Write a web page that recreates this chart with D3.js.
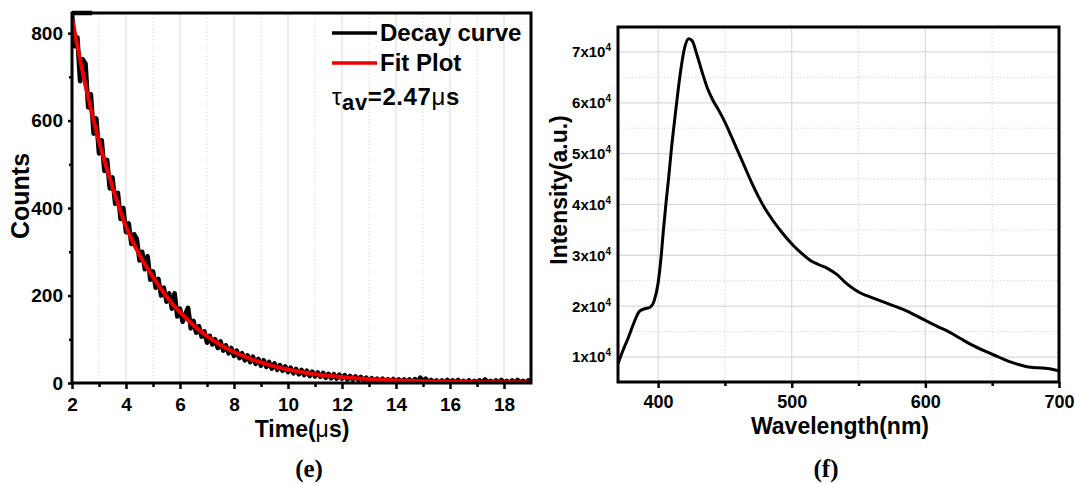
<!DOCTYPE html>
<html><head><meta charset="utf-8">
<script src="https://cdn.jsdelivr.net/npm/d3@7"></script>
<style>
body{margin:0;background:#fff}
svg{display:block}
text{font-family:"Liberation Sans",Arial,Helvetica,sans-serif;font-weight:bold;fill:#000}
</style>
</head><body>
<svg id="c" width="1075" height="484"></svg>
<script>
// ---------- Panel (e): decay curve ----------
const decayStart = 2, decayStep = 0.1;
const decayCounts = [
 845,770,790,690,740,730,630,660,570,605,
 525,555,485,510,445,470,410,435,375,400,
 345,365,318,340,330,280,300,260,290,236,
 255,218,238,200,218,186,205,170,205,152,
 170,140,158,172,125,142,115,130,106,118,
 92,108,88,100,80,95,74,86,68,80,
 62,74,57,68,52,63,48,60,44,55,
 40,52,37,48,33,45,30,41,28,38,
 25,35,22,32,20,30,18,28,16,26,
 15,24,14,23,12,21,11,20,10,19,
 10,18,8,16,8,15,7,14,6,12,
 5,11,4,10,4,10,3,9,3,9,
 2,8,2,8,2,8,1,9,3,12,
 4,10,2,7,1,6,0,6,0,7,
 1,6,0,7,0,5,0,6,0,5,
 1,6,0,8,1,5,0,6,0,7,
 1,5,0,6,0,7,1,5,0,6,
 2
];
const fitStart = 2, fitStep = 0.5;
const fitCounts = [834,680,552,448,358,293,242,198,162,132,107,87,71,58,47,38,31,25,20,16.5,13.5,11,9,7.5,6,5,4,3.5,3,2.5,2,2,1.5,1.5,1];
const timeTicks = [2,4,6,8,10,12,14,16,18];
const timeMinor = [3,5,7,9,11,13,15,17];
const countTicks = [0,200,400,600,800];
const countMinor = [100,300,500,700];

// ---------- Panel (f): PL spectrum ----------
const plWavelength = [370,374,378,382,386,390,394,397,400,402,404,406,408,410,413,415,417,420,423,425.5,429,433,437,441,445,450,455,460,465,470,475,480,485,493,501,507,514,520,527,534,540,547,553,560,572,585,600,610,618,626,634,646,655,662,669,675,681,687,694,700];
const plIntensity = [8700,11500,14000,16800,19000,19500,19800,21000,24500,29000,35000,40500,45500,51000,58000,62500,66500,71000,72600,72200,69500,66000,62800,60500,58700,56200,53300,50300,47300,44300,41600,39200,37200,34400,32000,30500,29000,28200,27400,26200,24700,23300,22400,21700,20500,19200,17200,15900,14900,13700,12500,11000,10000,9200,8600,8150,7950,7850,7650,7300];
const wlTicks = [400,500,600,700];
const wlMinor = [450,550,650];
const intTicks = [10000,20000,30000,40000,50000,60000,70000];
const intMinor = [15000,25000,35000,45000,55000,65000];

const svg = d3.select("#c");
const GRID = "#d9d9d9";

// ===== Panel e =====
const xE = d3.scaleLinear().domain([2,19]).range([72,531]);
const yE = d3.scaleLinear().domain([0,846]).range([383,13]);
const gE = svg.append("g");

gE.append("clipPath").attr("id","clipE").append("rect")
  .attr("x",xE(2)).attr("y",yE(846)).attr("width",xE(19)-xE(2)).attr("height",yE(0)-yE(846));

gE.append("g").selectAll("line").data(timeTicks.filter(d=>d>2)).join("line")
  .attr("x1",d=>xE(d)).attr("x2",d=>xE(d)).attr("y1",yE(0)).attr("y2",yE(846))
  .attr("stroke",GRID).attr("stroke-width",1);
gE.append("g").selectAll("line").data(timeMinor).join("line")
  .attr("x1",d=>xE(d)).attr("x2",d=>xE(d)).attr("y1",yE(0)).attr("y2",yE(846))
  .attr("stroke",GRID).attr("stroke-width",1).attr("stroke-dasharray","1.5,2");

const decayData = decayCounts.map((v,i)=>[decayStart+i*decayStep, v]);
const fitData = fitCounts.map((v,i)=>[fitStart+i*fitStep, v]);

gE.append("path").datum(decayData)
  .attr("clip-path","url(#clipE)")
  .attr("fill","none").attr("stroke","#000").attr("stroke-width",4.6).attr("stroke-linejoin","round")
  .attr("d", d3.line().x(d=>xE(d[0])).y(d=>yE(d[1])));
gE.append("path").datum(fitData)
  .attr("clip-path","url(#clipE)")
  .attr("fill","none").attr("stroke","#ee0000").attr("stroke-width",4)
  .attr("d", d3.line().curve(d3.curveMonotoneX).x(d=>xE(d[0])).y(d=>yE(d[1])));

gE.append("g").attr("transform",`translate(0,${yE(0)})`)
  .call(d3.axisBottom(xE).tickValues(timeTicks).tickSize(6).tickPadding(9).tickFormat(d3.format("d")));
gE.append("g").attr("transform",`translate(0,${yE(0)})`)
  .call(d3.axisBottom(xE).tickValues(timeMinor).tickSize(4).tickFormat(""));
gE.append("g").attr("transform",`translate(${xE(2)},0)`)
  .call(d3.axisLeft(yE).tickValues(countTicks).tickSize(4).tickPadding(5));
gE.append("g").attr("transform",`translate(${xE(2)},0)`)
  .call(d3.axisLeft(yE).tickValues(countMinor).tickSize(3).tickFormat(""));
gE.selectAll(".domain").remove();
gE.selectAll(".tick line").attr("stroke","#000").attr("stroke-width",2.5);
gE.selectAll(".tick text").style("font-size","19px").style("font-family",null);

gE.append("rect").attr("x",xE(2)).attr("y",yE(846)).attr("width",xE(19)-xE(2)).attr("height",yE(0)-yE(846))
  .attr("fill","none").attr("stroke","#000").attr("stroke-width",3);
gE.append("line").attr("x1",xE(2)).attr("x2",xE(2.75)).attr("y1",yE(846)).attr("y2",yE(846))
  .attr("stroke","#000").attr("stroke-width",4.5);

// legend
const legend = [{label:"Decay curve", color:"#000"},{label:"Fit Plot", color:"#ee0000"}];
legend.forEach((l,i)=>{
  const yy = 33 + i*30;
  gE.append("line").attr("x1",332).attr("x2",377).attr("y1",yy).attr("y2",yy)
    .attr("stroke",l.color).attr("stroke-width",3.5);
  gE.append("text").attr("x",380).attr("y",yy+8).style("font-size","24px").text(l.label);
});
const tau = gE.append("text").attr("x",332).attr("y",105).style("font-size","24px").style("letter-spacing","0.6px");
tau.append("tspan").style("font-weight","normal").text("τ");
tau.append("tspan").attr("dy",5).style("font-size","22px").text("av");
tau.append("tspan").attr("dy",-5).text("=2.47");
tau.append("tspan").style("font-weight","normal").text("μ");
tau.append("tspan").text("s");

gE.append("text").attr("transform","translate(29,196) rotate(-90)").attr("text-anchor","middle")
  .style("font-size","25px").text("Counts");
const tT = gE.append("text").attr("x",302).attr("y",437).attr("text-anchor","middle").style("font-size","23px");
tT.append("tspan").text("Time(");
tT.append("tspan").style("font-weight","normal").text("μ");
tT.append("tspan").text("s)");

// ===== Panel f =====
const xF = d3.scaleLinear().domain([370,700]).range([618,1059]);
const yF = d3.scaleLinear().domain([5100,74900]).range([382,27]);
const gF = svg.append("g");

gF.append("clipPath").attr("id","clipF").append("rect")
  .attr("x",xF(370)).attr("y",yF(74900)).attr("width",xF(700)-xF(370)).attr("height",yF(5100)-yF(74900));

gF.append("g").selectAll("line").data(intTicks).join("line")
  .attr("x1",xF(370)).attr("x2",xF(700)).attr("y1",d=>yF(d)).attr("y2",d=>yF(d))
  .attr("stroke",GRID).attr("stroke-width",1.2);
gF.append("g").selectAll("line").data(intMinor).join("line")
  .attr("x1",xF(370)).attr("x2",xF(700)).attr("y1",d=>yF(d)).attr("y2",d=>yF(d))
  .attr("stroke",GRID).attr("stroke-width",1).attr("stroke-dasharray","1.5,2");
gF.append("g").selectAll("line").data(wlTicks.filter(d=>d<700)).join("line")
  .attr("x1",d=>xF(d)).attr("x2",d=>xF(d)).attr("y1",yF(5100)).attr("y2",yF(74900))
  .attr("stroke",GRID).attr("stroke-width",1.2);
gF.append("g").selectAll("line").data(wlMinor).join("line")
  .attr("x1",d=>xF(d)).attr("x2",d=>xF(d)).attr("y1",yF(5100)).attr("y2",yF(74900))
  .attr("stroke",GRID).attr("stroke-width",1).attr("stroke-dasharray","1.5,2");

const plData = plWavelength.map((w,i)=>[w, plIntensity[i]]);
gF.append("path").datum(plData)
  .attr("clip-path","url(#clipF)")
  .attr("fill","none").attr("stroke","#000").attr("stroke-width",3).attr("stroke-linejoin","round")
  .attr("d", d3.line().curve(d3.curveMonotoneX).x(d=>xF(d[0])).y(d=>yF(d[1])));

gF.append("g").attr("transform",`translate(0,${yF(5100)})`)
  .call(d3.axisBottom(xF).tickValues(wlTicks).tickSize(6).tickPadding(7).tickFormat(d3.format("d")));
gF.append("g").attr("transform",`translate(0,${yF(5100)})`)
  .call(d3.axisBottom(xF).tickValues(wlMinor).tickSize(4).tickFormat(""));
const axLF = gF.append("g").attr("transform",`translate(${xF(370)},0)`)
  .call(d3.axisLeft(yF).tickValues(intTicks).tickSize(0).tickPadding(7));
gF.selectAll(".domain").remove();
gF.selectAll(".tick line").attr("stroke","#000").attr("stroke-width",2.5);
gF.selectAll(".tick text").style("font-size","18px").style("font-family",null);
axLF.selectAll(".tick text").style("font-size","15px").text(null).each(function(d){
  const t = d3.select(this);
  t.append("tspan").text((d/10000)+"x10");
  t.append("tspan").attr("dy","-6").style("font-size","10px").text("4");
});

gF.append("rect").attr("x",xF(370)).attr("y",yF(74900)).attr("width",xF(700)-xF(370)).attr("height",yF(5100)-yF(74900))
  .attr("fill","none").attr("stroke","#000").attr("stroke-width",3);

gF.append("text").attr("transform","translate(567,190) rotate(-90)").attr("text-anchor","middle")
  .style("font-size","23px").text("Intensity(a.u.)");
gF.append("text").attr("x",840).attr("y",434).attr("text-anchor","middle")
  .style("font-size","23px").text("Wavelength(nm)");

// captions
const captions = [{t:"(e)", x:309},{t:"(f)", x:826}];
captions.forEach(c=>{
  svg.append("text").attr("x",c.x).attr("y",477).attr("text-anchor","middle")
    .style("font-family","'Liberation Serif','Times New Roman',serif").style("font-size","25px").text(c.t);
});
</script>
</body></html>
